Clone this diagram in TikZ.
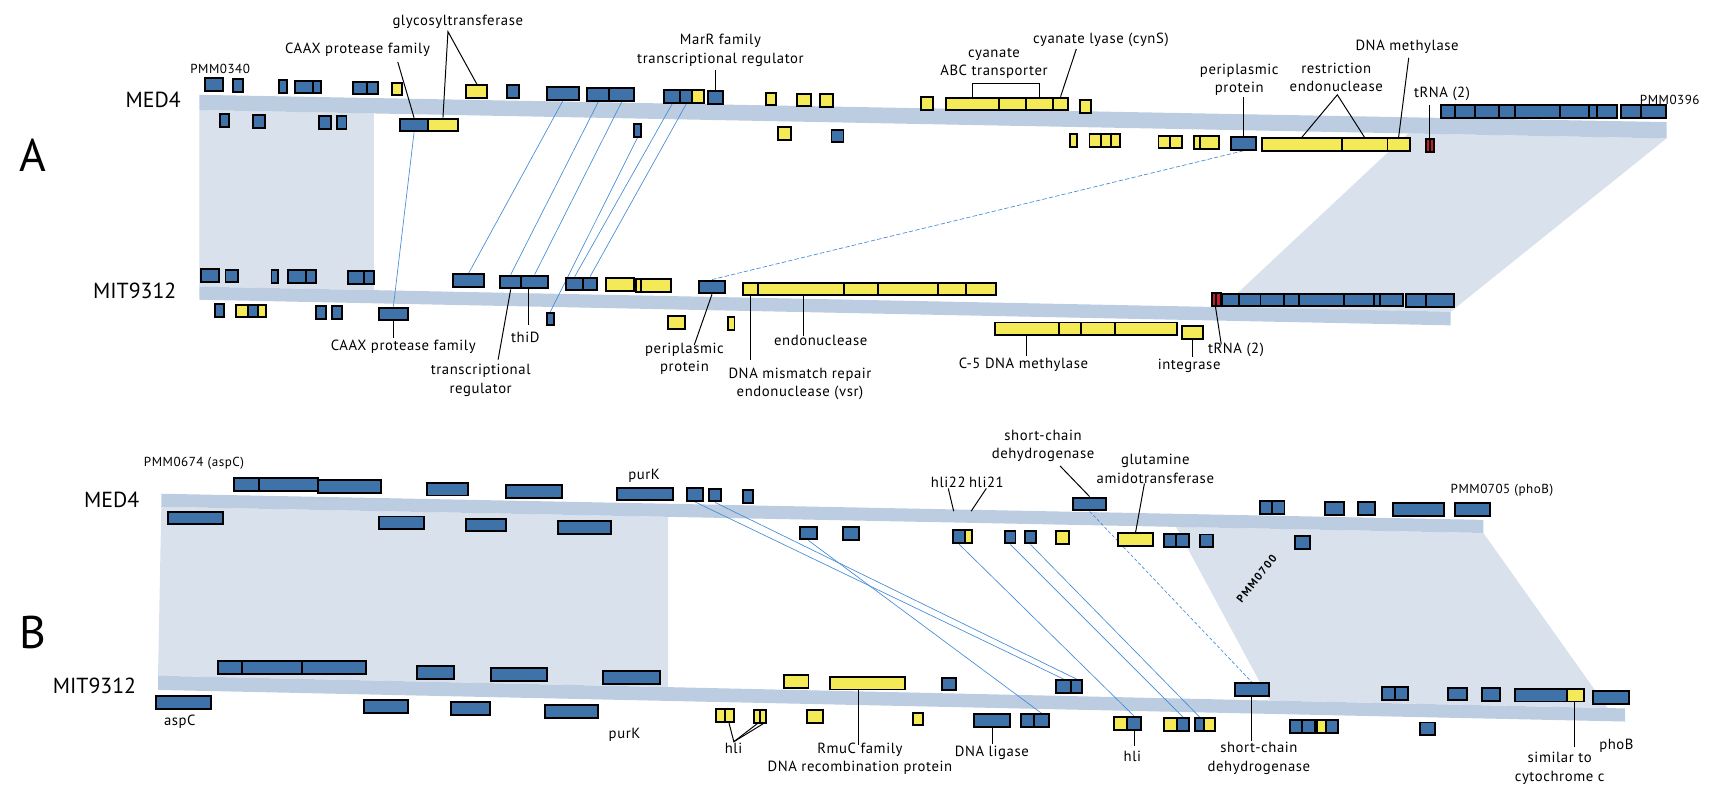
\documentclass[tikz,border=0pt]{standalone}
\usepackage{fontspec}
\setmainfont{PT Sans}
\newfontfamily\lblfont[LetterSpace=4]{PT Sans}
\newfontfamily\rotfont[LetterSpace=14]{PT Sans Bold}
\usetikzlibrary{backgrounds}
\definecolor{gblue}{RGB}{62,114,168}
\definecolor{gyel}{RGB}{244,234,88}
\definecolor{gred}{RGB}{196,30,40}
\definecolor{bandc}{RGB}{188,205,225}
\definecolor{shadec}{RGB}{216,225,236}
\definecolor{linkc}{RGB}{66,139,212}
% one gene segment: name, left x, top y, right x, colour
\newcommand{\gn}[5]{\node[gene,fill=#5,minimum width={#4-#2}] (#1) at (#2,#3) {};}
\begin{document}
\begin{tikzpicture}
    [x=1pt,y=-1pt,
     gene/.style={draw=black,line width=1.8pt,inner sep=0pt,minimum height=11.7pt,anchor=north west},
     lbl/.style={font=\lblfont\fontsize{13.5}{17}\selectfont,inner sep=0pt,align=center},
     pmm/.style={font=\lblfont\fontsize{12}{14}\selectfont,inner sep=0pt},
     strain/.style={font=\fontsize{20}{22}\selectfont,inner sep=0pt,anchor=east},
     panel/.style={font=\fontsize{42}{44}\selectfont,inner sep=0pt},
     lead/.style={line width=0.9pt},
     link/.style={draw=linkc,line width=0.6pt}]
    \useasboundingbox (0,0) rectangle (1568,722);

    % ---------- panel A, MED4 ----------
    \gn{a1}{187}{71}{203.6}{gblue}
    \gn{a2}{213}{72}{222}{gblue}
    \gn{a3}{255}{72.5}{262}{gblue}
    \gn{a4a}{270}{73}{286}{gblue}
    \gn{a4b}{286}{73}{294}{gblue}
    \gn{a5a}{323}{74}{336}{gblue}
    \gn{a5b}{336}{74}{346}{gblue}
    \gn{a6}{359}{75}{368}{gyel}
    \gn{a7}{427}{77}{446}{gyel}
    \gn{a8}{464}{77.5}{475}{gblue}
    \gn{a9}{501}{79}{530}{gblue}
    \gn{a10a}{538}{80}{558}{gblue}
    \gn{a10b}{558}{80}{581}{gblue}
    \gn{a11a}{608.4}{82}{623}{gblue}
    \gn{a11b}{623}{82}{634.4}{gblue}
    \gn{a11c}{634.4}{82}{645.4}{gyel}
    \gn{marr}{648.6}{82.6}{662.4}{gblue}
    \gn{a13}{702}{84}{711.3}{gyel}
    \gn{a14}{730}{85}{743.5}{gyel}
    \gn{a15}{751.6}{85.5}{763.8}{gyel}
    \gn{a16}{844.3}{88}{855}{gyel}
    \gn{abc1}{866.8}{88.7}{916}{gyel}
    \gn{abc2}{916}{88.7}{940.8}{gyel}
    \gn{abc3}{940.8}{88.7}{964.9}{gyel}
    \gn{cyns}{964.9}{88.7}{979.4}{gyel}
    \gn{a18}{989.7}{91}{1000.3}{gyel}
    \gn{ra1}{1321}{95.4}{1334.1}{gblue}
    \gn{ra2}{1334.1}{95.4}{1352.3}{gblue}
    \gn{ra3}{1352.3}{95.4}{1374.4}{gblue}
    \gn{ra4}{1374.4}{95.4}{1389}{gblue}
    \gn{ra5}{1389}{95.4}{1430.3}{gblue}
    \gn{ra6}{1430.3}{95.4}{1457.4}{gblue}
    \gn{ra7}{1457.4}{95.4}{1463.9}{gblue}
    \gn{ra8}{1463.9}{95.4}{1483}{gblue}
    \gn{ra9}{1485.9}{95.4}{1504.5}{gblue}
    \gn{ra10}{1504.5}{95.4}{1527.6}{gblue}
    \gn{b1}{201}{104}{209}{gblue}
    \gn{b2}{231}{104.5}{242}{gblue}
    \gn{b3}{292}{105.5}{303}{gblue}
    \gn{b4}{308}{105.5}{317}{gblue}
    \gn{caaxa}{366}{108}{392}{gblue}
    \gn{glyc}{392}{108}{419}{gyel}
    \gn{b6}{581}{113}{586.8}{gblue}
    \gn{b7}{713}{116}{725}{gyel}
    \gn{b8}{762}{118}{773}{gblue}
    \gn{b9}{980.4}{122}{987.5}{gyel}
    \gn{b10a}{998.7}{122}{1009}{gyel}
    \gn{b10b}{1009}{122}{1018.5}{gyel}
    \gn{b10c}{1018.5}{122}{1027}{gyel}
    \gn{b11a}{1062}{123.5}{1072.6}{gyel}
    \gn{b11b}{1072.6}{123.5}{1084}{gyel}
    \gn{b12a}{1094.7}{124}{1100}{gyel}
    \gn{b12b}{1100}{124}{1117.9}{gyel}
    \gn{peri}{1128.6}{124.8}{1151.7}{gblue}
    \gn{rest1}{1157}{126}{1230}{gyel}
    \gn{rest2}{1230}{126}{1272.1}{gyel}
    \gn{dnam}{1272.1}{126}{1292.5}{gyel}
    \gn{trna1}{1307.8}{127}{1311.3}{gred}
    \gn{trna2}{1311.3}{127}{1314.9}{gred}

    % ---------- panel A, MIT9312 ----------
    \gn{m1}{183.2}{246}{200.1}{gblue}
    \gn{m2}{206}{246.5}{217.7}{gblue}
    \gn{m3}{248.2}{247}{254.5}{gblue}
    \gn{m4a}{263.3}{247}{279.8}{gblue}
    \gn{m4b}{279.8}{247}{288.6}{gblue}
    \gn{m5a}{318.4}{248}{333.2}{gblue}
    \gn{m5b}{333.2}{248}{342.3}{gblue}
    \gn{m6}{415}{250.8}{443}{gblue}
    \gn{m7a}{457.8}{252}{477.5}{gblue}
    \gn{m7b}{477.5}{252}{501.7}{gblue}
    \gn{m8a}{518.5}{253.8}{534.3}{gblue}
    \gn{m8b}{534.3}{253.8}{546.6}{gblue}
    \gn{m9}{554.7}{254.5}{580.7}{gyel}
    \gn{m10a}{582.8}{255}{587}{gyel}
    \gn{m10b}{587}{255}{615}{gyel}
    \gn{mperi}{640.4}{256.5}{664.3}{gblue}
    \gn{mis}{680.8}{258.5}{694.9}{gyel}
    \gn{endo}{694.9}{258.5}{773.8}{gyel}
    \gn{m12c}{773.8}{258.5}{804.6}{gyel}
    \gn{m12d}{804.6}{258.5}{859.4}{gyel}
    \gn{m12e}{859.4}{258.5}{885.7}{gyel}
    \gn{m12f}{885.7}{258.5}{913}{gyel}
    \gn{mtrna1}{1110.9}{268}{1115.2}{gred}
    \gn{mtrna2}{1115.2}{268}{1119.6}{gred}
    \gn{rm1}{1120.5}{268.5}{1135.9}{gblue}
    \gn{rm2}{1135.9}{268.5}{1155.6}{gblue}
    \gn{rm3}{1155.6}{268.5}{1177.5}{gblue}
    \gn{rm4}{1177.5}{268.5}{1190.7}{gblue}
    \gn{rm5}{1190.7}{268.5}{1232.4}{gblue}
    \gn{rm6}{1232.4}{268.5}{1260}{gblue}
    \gn{rm7}{1260}{268.5}{1265.3}{gblue}
    \gn{rm8}{1265.3}{268.5}{1286.4}{gblue}
    \gn{rm9}{1289.4}{269}{1307}{gblue}
    \gn{rm10}{1307}{269}{1333}{gblue}
    \gn{n1}{196.6}{278}{204.3}{gblue}
    \gn{n2a}{215.5}{278.5}{227}{gyel}
    \gn{n2b}{227}{278.5}{236}{gblue}
    \gn{n2c}{236}{278.5}{243}{gyel}
    \gn{n3}{289.3}{280}{298.4}{gblue}
    \gn{n4}{303.3}{280}{313.1}{gblue}
    \gn{ncaax}{346.5}{281.4}{373.5}{gblue}
    \gn{n6}{501}{286}{507}{gblue}
    \gn{n7}{612.3}{289}{627.4}{gyel}
    \gn{n8}{667}{290}{673}{gyel}
    \gn{c5a}{912}{295}{970.4}{gyel}
    \gn{c5b}{970.4}{295}{991}{gyel}
    \gn{c5c}{991}{295}{1021.8}{gyel}
    \gn{c5d}{1021.8}{295}{1078.8}{gyel}
    \gn{integ}{1083.2}{298.5}{1103}{gyel}

    % ---------- panel B, MED4 ----------
    \gn{aspc}{213.6}{438}{236.4}{gblue}
    \gn{s1b}{236.4}{438}{290.8}{gblue}
    \gn{s1c}{291}{439.5}{348.7}{gblue}
    \gn{s3}{390.9}{442}{428.8}{gblue}
    \gn{s4}{463.6}{444}{514.8}{gblue}
    \gn{purk}{565.4}{446.5}{616.3}{gblue}
    \gn{s6}{629}{447}{644.5}{gblue}
    \gn{s7}{650}{447.5}{660.4}{gblue}
    \gn{s8}{681}{449}{690}{gblue}
    \gn{sdh}{984}{455.6}{1013.5}{gblue}
    \gn{s10a}{1154.8}{459}{1166}{gblue}
    \gn{s10b}{1166}{459}{1177.6}{gblue}
    \gn{s11}{1214.4}{459.5}{1232}{gblue}
    \gn{s12}{1245}{460}{1260.6}{gblue}
    \gn{s13}{1277}{460.5}{1323.8}{gblue}
    \gn{phob}{1334.4}{461}{1366}{gblue}
    \gn{t1}{152.8}{468.5}{204}{gblue}
    \gn{t2}{347}{473}{388}{gblue}
    \gn{t3}{427}{475}{463}{gblue}
    \gn{t4}{511.3}{477.5}{559.4}{gblue}
    \gn{t5}{733}{482.3}{748.5}{gblue}
    \gn{t6}{772.7}{483}{787.4}{gblue}
    \gn{hlia}{873.4}{485.7}{884.5}{gblue}
    \gn{hlib}{884.5}{485.7}{890.6}{gyel}
    \gn{t8}{921.4}{486}{930.8}{gblue}
    \gn{t9}{939.8}{486}{949.2}{gblue}
    \gn{t10}{967.6}{486.5}{979.5}{gyel}
    \gn{glut}{1025}{488.3}{1057}{gyel}
    \gn{t12a}{1067}{489}{1078}{gblue}
    \gn{t12b}{1078}{489}{1090}{gblue}
    \gn{t13}{1100}{489.5}{1112}{gblue}
    \gn{t14}{1187.5}{491}{1201}{gblue}

    % ---------- panel B, MIT9312 ----------
    \gn{u1a}{199.4}{605.6}{221.5}{gblue}
    \gn{u1b}{221.5}{605.6}{276}{gblue}
    \gn{u1c}{276}{605.6}{334.6}{gblue}
    \gn{u2}{381.7}{610}{415.3}{gblue}
    \gn{u3}{450}{612}{501.3}{gblue}
    \gn{u4}{552.5}{614.7}{604.5}{gblue}
    \gn{u5}{718.4}{618.7}{740.9}{gyel}
    \gn{rmuc}{760.2}{620}{829.7}{gyel}
    \gn{u7}{863}{620.8}{876}{gblue}
    \gn{u8a}{968.2}{623}{981.4}{gblue}
    \gn{u8b}{981.4}{623}{992}{gblue}
    \gn{usdh}{1132.5}{626}{1163}{gblue}
    \gn{u10a}{1267.4}{629.4}{1279}{gblue}
    \gn{u10b}{1279}{629.4}{1290.5}{gblue}
    \gn{u11}{1327.4}{630}{1344.8}{gblue}
    \gn{u12}{1359}{630.5}{1375.3}{gblue}
    \gn{u13a}{1389.5}{631}{1437}{gblue}
    \gn{cytc}{1437}{631}{1452.7}{gyel}
    \gn{uphob}{1460.6}{633}{1493.3}{gblue}
    \gn{uaspc}{142}{637.7}{192.8}{gblue}
    \gn{v2}{333.3}{641.6}{373.5}{gblue}
    \gn{v3}{413.2}{643}{448.8}{gblue}
    \gn{upurk}{499.2}{646}{547.6}{gblue}
    \gn{hl1a}{655.7}{650}{663.9}{gyel}
    \gn{hl1b}{663.9}{650}{672.1}{gyel}
    \gn{hl2a}{691}{650.5}{696.7}{gyel}
    \gn{hl2b}{696.7}{650.5}{702}{gyel}
    \gn{v6}{739.2}{650.8}{754}{gyel}
    \gn{v7}{836.6}{653}{845.5}{gyel}
    \gn{lig}{893}{654}{926}{gblue}
    \gn{v9a}{935.6}{654.5}{948.2}{gblue}
    \gn{v9b}{948.2}{654.5}{961.4}{gblue}
    \gn{hl3a}{1021}{657}{1033}{gyel}
    \gn{hl3b}{1033}{657}{1046.2}{gblue}
    \gn{v11a}{1066.7}{658}{1078.8}{gyel}
    \gn{v11b}{1078.8}{658}{1090.4}{gblue}
    \gn{v12a}{1095.7}{658}{1104}{gblue}
    \gn{v12b}{1104}{658}{1114}{gyel}
    \gn{v13a}{1182.6}{660}{1193.6}{gblue}
    \gn{v13b}{1193.6}{660}{1205.2}{gblue}
    \gn{v14a}{1207.8}{660}{1215.7}{gyel}
    \gn{v14b}{1215.7}{660}{1226.3}{gblue}
    \gn{v15}{1301.6}{662}{1315.8}{gblue}

    % strips, shaded blocks and links go underneath
    \begin{scope}[on background layer]
        \fill[shadec] (183,101) -- (343,104.1) -- (343,266.2) -- (183,263) -- cycle;
        \fill[shadec] (1292,122.4) -- (1529,127) -- (1331,286) -- (1121,282.4) -- cycle;
        \fill[shadec] (148,465) -- (613,474.2) -- (613,630.4) -- (145,620) -- cycle;
        \fill[shadec] (1079,483.4) -- (1361,489) -- (1475,649.6) -- (1165,642.7) -- cycle;
        \fill[bandc] (183,87) -- (1529,112) -- (1529,127) -- (183,101) -- cycle;
        \fill[bandc] (183,263) -- (1331,286) -- (1331,298.5) -- (183,275) -- cycle;
        \fill[bandc] (148,453) -- (1361,477) -- (1361,489) -- (148,465) -- cycle;
        \fill[bandc] (145,620) -- (1491,650) -- (1491,662) -- (145,633) -- cycle;
        \draw[link] (caaxa.south) -- (ncaax.north);
        \draw[link] (a9.south) -- (m6.north);
        \draw[link] (a10a.south) -- (m7a.north);
        \draw[link] (a10b.south) -- (m7b.north);
        \draw[link] (b6.south) -- (n6.north);
        \draw[link] (a11a.south) -- (m8a.north);
        \draw[link] (a11b.south) -- (m8b.north);
        \draw[link,dash pattern=on 4pt off 2pt] (peri.south) -- (mperi.north);
        \draw[link] (s6.south) -- (u8a.north);
        \draw[link] (s7.south) -- (u8b.north);
        \draw[link] (t5.south) -- (v9b.north);
        \draw[link] (hlia.south) -- (hl3b.north);
        \draw[link] (t8.south) -- (v11b.north);
        \draw[link] (t9.south) -- (v12a.north);
        \draw[link,dash pattern=on 3pt off 2pt] (sdh.south) -- (usdh.north);
    \end{scope}

    % panel letters and strain names
    \node[panel] (pa) at (30,142) {A};
    \node[panel] (pb) at (30,580) {B};
    \node[strain] (amed) at (166,92) {MED4};
    \node[strain] (amit) at (162,267) {MIT9312};
    \node[strain] (bmed) at (128,459) {MED4};
    \node[strain] (bmit) at (125,629) {MIT9312};

    % ---------- labels, panel A ----------
    \node[pmm] (l340) at (202,63) {PMM0340};
    \node[lbl] (lcaax) at (328,46) {CAAX protease family};
    \node[lbl] (lglyc) at (420,20) {glycosyltransferase};
    \node[lbl] (lmarr) at (661,46) {MarR family\\transcriptional regulator};
    \node[lbl] (labc) at (912,58) {cyanate\\ABC transporter};
    \node[lbl] (lcyns) at (1010,37) {cyanate lyase (cynS)};
    \node[lbl] (lperi) at (1137,73) {periplasmic\\protein};
    \node[lbl] (lrest) at (1226,71) {restriction\\endonuclease};
    \node[lbl] (ldnam) at (1291,43) {DNA methylase};
    \node[lbl] (ltrna) at (1323,86) {tRNA (2)};
    \node[pmm] (l396) at (1532,92) {PMM0396};
    \node[lbl] (lcaax2) at (370,318) {CAAX protease family};
    \node[lbl] (lthid) at (482,310) {thiD};
    \node[lbl] (ltreg) at (441,349) {transcriptional\\regulator};
    \node[lbl] (lperi2) at (628,329) {periplasmic\\protein};
    \node[lbl] (lendo) at (753,312) {endonuclease};
    \node[lbl] (lvsr) at (734,352) {DNA mismatch repair\\endonuclease (vsr)};
    \node[lbl] (lc5) at (939,335) {C-5 DNA methylase};
    \node[lbl] (linteg) at (1091,336) {integrase};
    \node[lbl] (ltrna2) at (1134,321) {tRNA (2)};

    % ---------- labels, panel B ----------
    \node[pmm] (l674) at (178,425) {PMM0674 (aspC)};
    \node[lbl] (lpurk) at (591,437) {purK};
    \node[lbl] (lhli22) at (870,443) {hli22};
    \node[lbl] (lhli21) at (905,443) {hli21};
    \node[lbl] (lsdh) at (957,409) {short-chain\\dehydrogenase};
    \node[lbl] (lglut) at (1060,430) {glutamine\\amidotransferase};
    \node[pmm] (l705) at (1378,450) {PMM0705 (phoB)};
    \node[font=\rotfont\fontsize{10}{12}\selectfont,rotate=52,inner sep=0pt] (l700) at (1153,531) {PMM0700};
    \node[lbl] (laspc) at (165,662) {aspC};
    \node[lbl] (lpurk2) at (573,674) {purK};
    \node[lbl] (lhli) at (673,687) {hli};
    \node[lbl] (lrmuc) at (789,696) {RmuC family\\DNA recombination protein};
    \node[lbl] (llig) at (910,691) {DNA ligase};
    \node[lbl] (lhli2) at (1039,694) {hli};
    \node[lbl] (lsdh2) at (1155,696) {short-chain\\dehydrogenase};
    \node[lbl] (lcytc) at (1431,705) {similar to\\cytochrome c};
    \node[lbl] (lphob) at (1483,684) {phoB};

    % leader lines
    \coordinate (k1) at (365,57);
    \coordinate (k2) at (411,29);
    \coordinate (k4) at (987.5,45);
    \coordinate (k5) at (1227,87);
    \coordinate (k6) at (1292.5,53);
    \draw[lead] (k1) -- (caaxa.north);
    \draw[lead] (glyc.north) -- (k2) -- (a7.north);
    \draw[lead] (marr.north) -- ++(0,-18);
    \draw[lead] (abc1.north) -- ++(0,-12) -| (abc3.north);
    \draw[lead] (k4) -- (cyns.north);
    \draw[lead] (peri.north) -- ++(0,-36);
    \draw[lead] (rest1.north) -- (k5) -- (rest2.north);
    \draw[lead] (k6) -- (dnam.north);
    \draw[lead] (trna2.north west) -- ++(0,-31);
    \coordinate (k7) at (457,330);
    \coordinate (k8) at (637,316.5);
    \coordinate (k9) at (1120.5,316);
    \draw[lead] (ncaax.south) -- ++(0,15);
    \draw[lead] ([xshift=-6pt]m7b.south) -- ++(0,33);
    \draw[lead] (m7a.south) -- (k7);
    \draw[lead] (mperi.south) -- (k8);
    \draw[lead] (mis.south) -- ++(0,58);
    \draw[lead] ([xshift=2pt]endo.south) -- ++(0,36);
    \draw[lead] (c5a.south) -- ++(0,18);
    \draw[lead] (integ.south) -- ++(0,16);
    \draw[lead] (mtrna2.south west) -- (k9);
    \coordinate (k10) at (875,469);
    \coordinate (k11) at (891,469);
    \coordinate (k12) at (972.6,427.5);
    \draw[lead] (lhli22.south) -- (k10);
    \draw[lead] (lhli21.south) -- (k11);
    \draw[lead] (k12) -- (sdh.north);
    \draw[lead] ([xshift=-10pt]lglut.south) -- (glut.north);
    \coordinate (k13) at (673.3,680.5);
    \draw[lead] (hl1b.south) -- (k13) -- (hl2a.south);
    \draw[lead] (k13) -- (hl2b.south);
    \draw[lead] ([xshift=-8pt]rmuc.south) -- ++(0,50);
    \draw[lead] (lig.south) -- ++(0,15);
    \draw[lead] (hl3b.south) -- ++(0,14);
    \draw[lead] (usdh.south) -- ++(0,40);
    \draw[lead] ([xshift=-1pt]cytc.south) -- ++(0,41);
\end{tikzpicture}
\end{document}
